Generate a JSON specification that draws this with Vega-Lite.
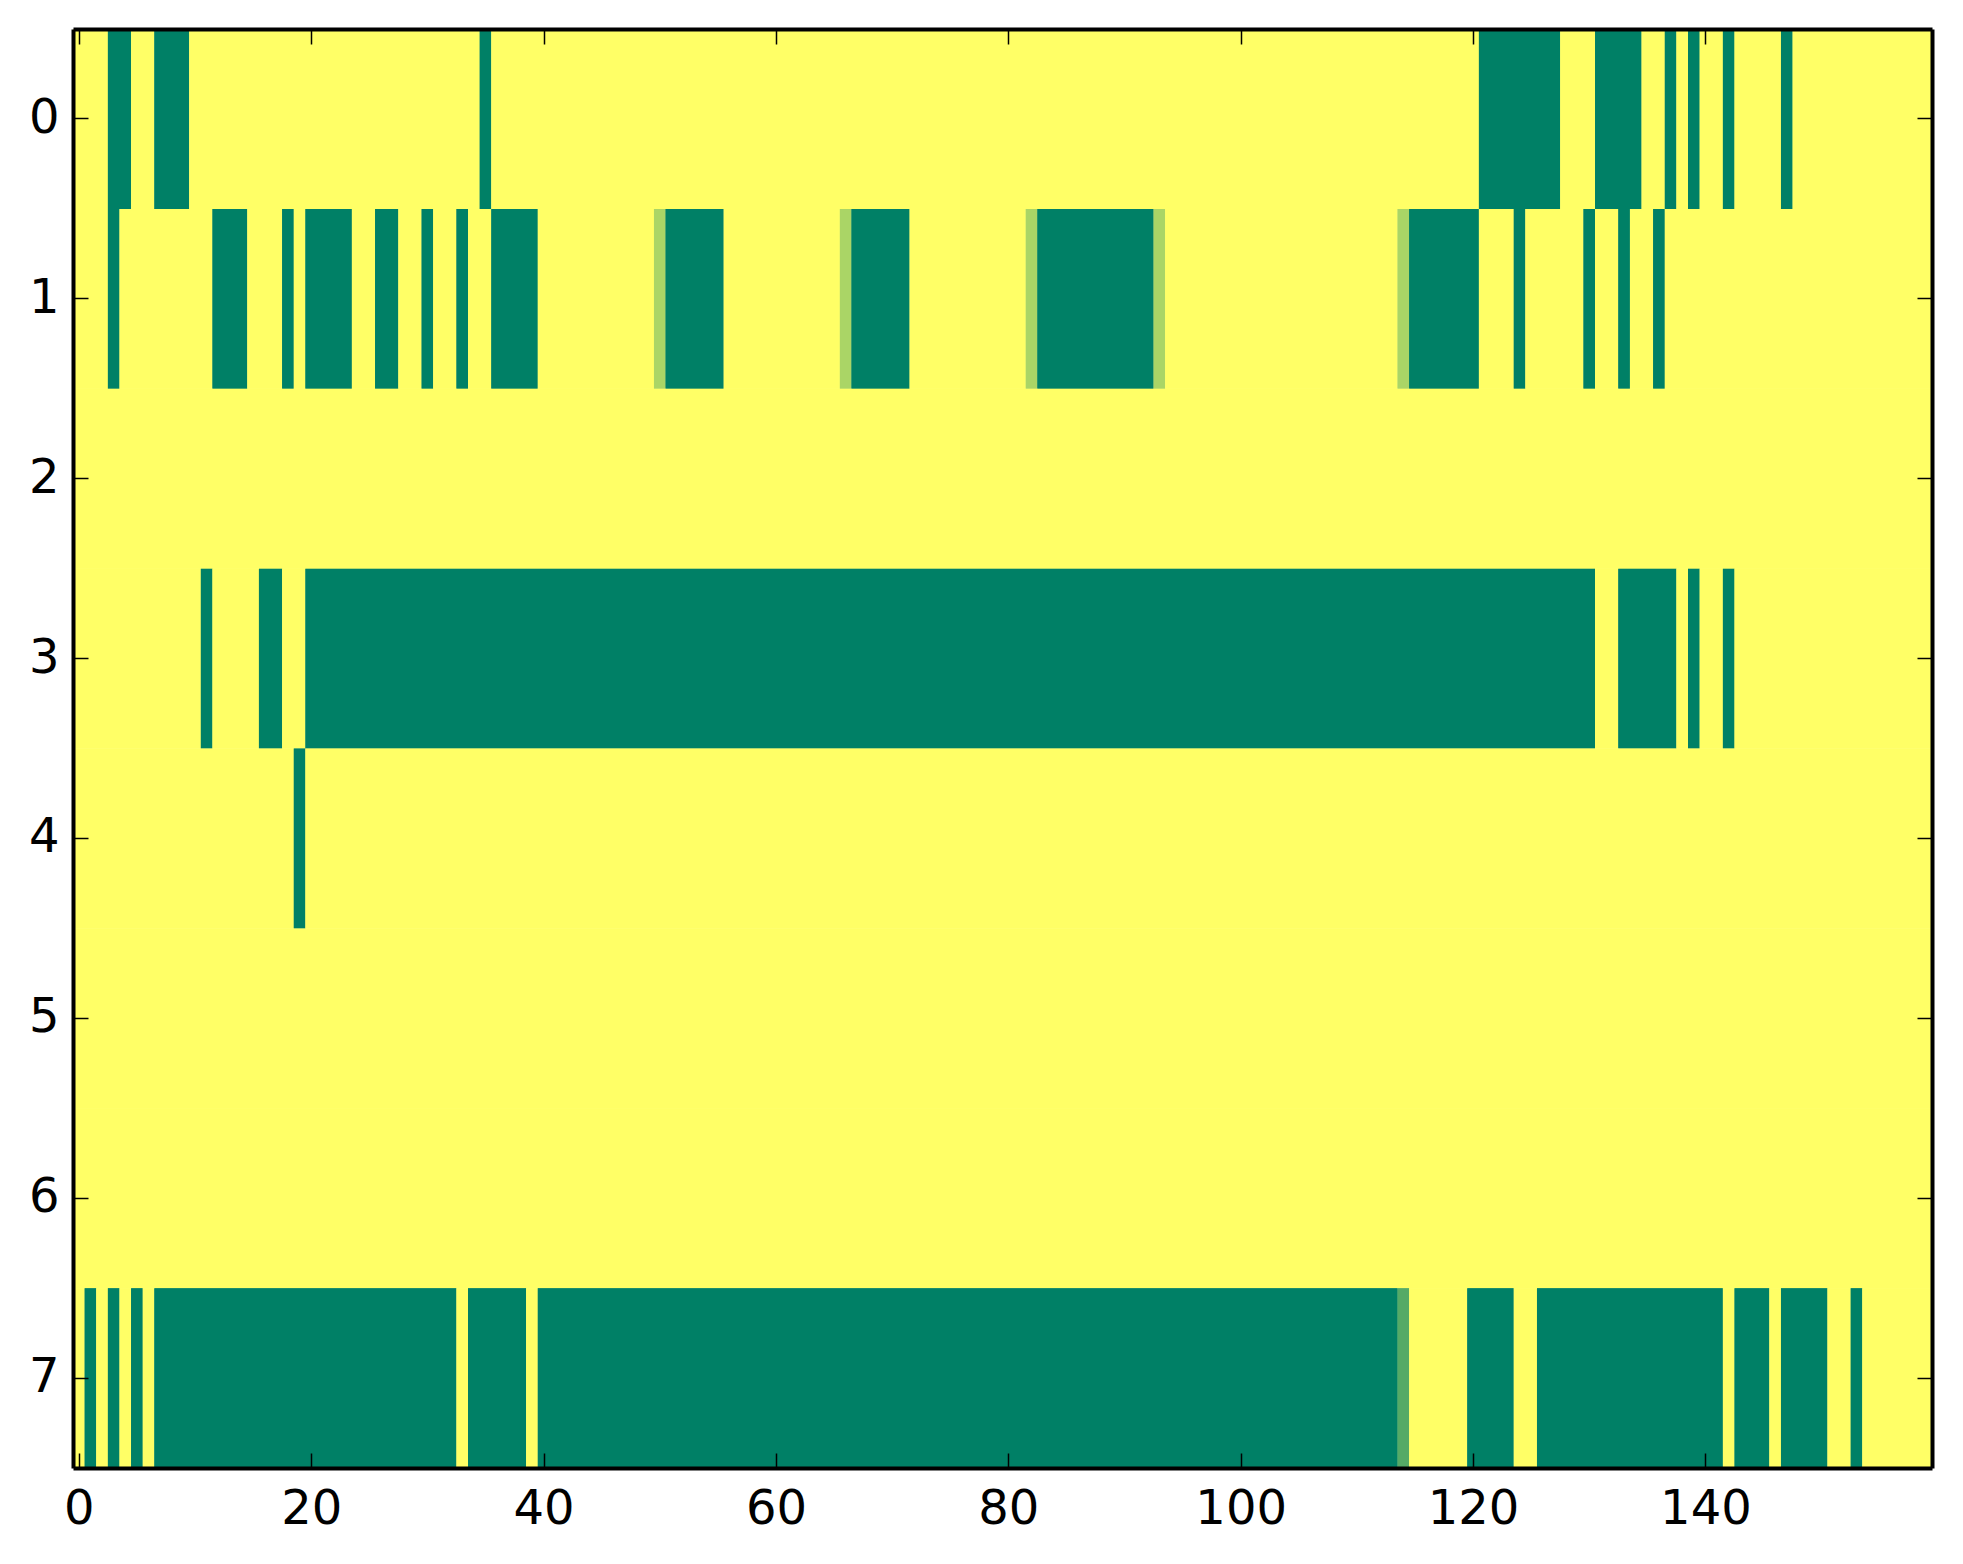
{
  "$schema": "https://vega.github.io/schema/vega-lite/v6.json",
  "width": 1859,
  "height": 1439,
  "autosize": {"type": "none"},
  "padding": {"left": 73, "top": 29, "right": 31, "bottom": 96},
  "background": "white",
  "data": {
    "values": [
      {"row": 0, "x0": -0.5, "x1": 2.5, "v": 1},
      {"row": 0, "x0": 2.5, "x1": 4.5, "v": 0},
      {"row": 0, "x0": 4.5, "x1": 6.5, "v": 1},
      {"row": 0, "x0": 6.5, "x1": 9.5, "v": 0},
      {"row": 0, "x0": 9.5, "x1": 34.5, "v": 1},
      {"row": 0, "x0": 34.5, "x1": 35.5, "v": 0},
      {"row": 0, "x0": 35.5, "x1": 120.5, "v": 1},
      {"row": 0, "x0": 120.5, "x1": 127.5, "v": 0},
      {"row": 0, "x0": 127.5, "x1": 130.5, "v": 1},
      {"row": 0, "x0": 130.5, "x1": 134.5, "v": 0},
      {"row": 0, "x0": 134.5, "x1": 136.5, "v": 1},
      {"row": 0, "x0": 136.5, "x1": 137.5, "v": 0},
      {"row": 0, "x0": 137.5, "x1": 138.5, "v": 1},
      {"row": 0, "x0": 138.5, "x1": 139.5, "v": 0},
      {"row": 0, "x0": 139.5, "x1": 141.5, "v": 1},
      {"row": 0, "x0": 141.5, "x1": 142.5, "v": 0},
      {"row": 0, "x0": 142.5, "x1": 146.5, "v": 1},
      {"row": 0, "x0": 146.5, "x1": 147.5, "v": 0},
      {"row": 0, "x0": 147.5, "x1": 159.5, "v": 1},

      {"row": 1, "x0": -0.5, "x1": 2.5, "v": 1},
      {"row": 1, "x0": 2.5, "x1": 3.5, "v": 0},
      {"row": 1, "x0": 3.5, "x1": 11.5, "v": 1},
      {"row": 1, "x0": 11.5, "x1": 14.5, "v": 0},
      {"row": 1, "x0": 14.5, "x1": 17.5, "v": 1},
      {"row": 1, "x0": 17.5, "x1": 18.5, "v": 0},
      {"row": 1, "x0": 18.5, "x1": 19.5, "v": 1},
      {"row": 1, "x0": 19.5, "x1": 23.5, "v": 0},
      {"row": 1, "x0": 23.5, "x1": 25.5, "v": 1},
      {"row": 1, "x0": 25.5, "x1": 27.5, "v": 0},
      {"row": 1, "x0": 27.5, "x1": 29.5, "v": 1},
      {"row": 1, "x0": 29.5, "x1": 30.5, "v": 0},
      {"row": 1, "x0": 30.5, "x1": 32.5, "v": 1},
      {"row": 1, "x0": 32.5, "x1": 33.5, "v": 0},
      {"row": 1, "x0": 33.5, "x1": 35.5, "v": 1},
      {"row": 1, "x0": 35.5, "x1": 39.5, "v": 0},
      {"row": 1, "x0": 39.5, "x1": 49.5, "v": 1},
      {"row": 1, "x0": 49.5, "x1": 50.5, "v": 0.667},
      {"row": 1, "x0": 50.5, "x1": 55.5, "v": 0},
      {"row": 1, "x0": 55.5, "x1": 65.5, "v": 1},
      {"row": 1, "x0": 65.5, "x1": 66.5, "v": 0.667},
      {"row": 1, "x0": 66.5, "x1": 71.5, "v": 0},
      {"row": 1, "x0": 71.5, "x1": 81.5, "v": 1},
      {"row": 1, "x0": 81.5, "x1": 82.5, "v": 0.667},
      {"row": 1, "x0": 82.5, "x1": 92.5, "v": 0},
      {"row": 1, "x0": 92.5, "x1": 93.5, "v": 0.667},
      {"row": 1, "x0": 93.5, "x1": 113.5, "v": 1},
      {"row": 1, "x0": 113.5, "x1": 114.5, "v": 0.667},
      {"row": 1, "x0": 114.5, "x1": 120.5, "v": 0},
      {"row": 1, "x0": 120.5, "x1": 123.5, "v": 1},
      {"row": 1, "x0": 123.5, "x1": 124.5, "v": 0},
      {"row": 1, "x0": 124.5, "x1": 129.5, "v": 1},
      {"row": 1, "x0": 129.5, "x1": 130.5, "v": 0},
      {"row": 1, "x0": 130.5, "x1": 132.5, "v": 1},
      {"row": 1, "x0": 132.5, "x1": 133.5, "v": 0},
      {"row": 1, "x0": 133.5, "x1": 135.5, "v": 1},
      {"row": 1, "x0": 135.5, "x1": 136.5, "v": 0},
      {"row": 1, "x0": 136.5, "x1": 159.5, "v": 1},

      {"row": 2, "x0": -0.5, "x1": 159.5, "v": 1},

      {"row": 3, "x0": -0.5, "x1": 10.5, "v": 1},
      {"row": 3, "x0": 10.5, "x1": 11.5, "v": 0},
      {"row": 3, "x0": 11.5, "x1": 15.5, "v": 1},
      {"row": 3, "x0": 15.5, "x1": 17.5, "v": 0},
      {"row": 3, "x0": 17.5, "x1": 19.5, "v": 1},
      {"row": 3, "x0": 19.5, "x1": 130.5, "v": 0},
      {"row": 3, "x0": 130.5, "x1": 132.5, "v": 1},
      {"row": 3, "x0": 132.5, "x1": 137.5, "v": 0},
      {"row": 3, "x0": 137.5, "x1": 138.5, "v": 1},
      {"row": 3, "x0": 138.5, "x1": 139.5, "v": 0},
      {"row": 3, "x0": 139.5, "x1": 141.5, "v": 1},
      {"row": 3, "x0": 141.5, "x1": 142.5, "v": 0},
      {"row": 3, "x0": 142.5, "x1": 159.5, "v": 1},

      {"row": 4, "x0": -0.5, "x1": 18.5, "v": 1},
      {"row": 4, "x0": 18.5, "x1": 19.5, "v": 0},
      {"row": 4, "x0": 19.5, "x1": 159.5, "v": 1},

      {"row": 5, "x0": -0.5, "x1": 159.5, "v": 1},

      {"row": 6, "x0": -0.5, "x1": 159.5, "v": 1},

      {"row": 7, "x0": -0.5, "x1": 0.5, "v": 1},
      {"row": 7, "x0": 0.5, "x1": 1.5, "v": 0},
      {"row": 7, "x0": 1.5, "x1": 2.5, "v": 1},
      {"row": 7, "x0": 2.5, "x1": 3.5, "v": 0},
      {"row": 7, "x0": 3.5, "x1": 4.5, "v": 1},
      {"row": 7, "x0": 4.5, "x1": 5.5, "v": 0},
      {"row": 7, "x0": 5.5, "x1": 6.5, "v": 1},
      {"row": 7, "x0": 6.5, "x1": 32.5, "v": 0},
      {"row": 7, "x0": 32.5, "x1": 33.5, "v": 1},
      {"row": 7, "x0": 33.5, "x1": 38.5, "v": 0},
      {"row": 7, "x0": 38.5, "x1": 39.5, "v": 1},
      {"row": 7, "x0": 39.5, "x1": 113.5, "v": 0},
      {"row": 7, "x0": 113.5, "x1": 114.5, "v": 0.333},
      {"row": 7, "x0": 114.5, "x1": 119.5, "v": 1},
      {"row": 7, "x0": 119.5, "x1": 123.5, "v": 0},
      {"row": 7, "x0": 123.5, "x1": 125.5, "v": 1},
      {"row": 7, "x0": 125.5, "x1": 141.5, "v": 0},
      {"row": 7, "x0": 141.5, "x1": 142.5, "v": 1},
      {"row": 7, "x0": 142.5, "x1": 145.5, "v": 0},
      {"row": 7, "x0": 145.5, "x1": 146.5, "v": 1},
      {"row": 7, "x0": 146.5, "x1": 150.5, "v": 0},
      {"row": 7, "x0": 150.5, "x1": 152.5, "v": 1},
      {"row": 7, "x0": 152.5, "x1": 153.5, "v": 0},
      {"row": 7, "x0": 153.5, "x1": 159.5, "v": 1}
    ]
  },
  "layer": [
    {
      "mark": {"type": "rect", "strokeWidth": 0},
      "encoding": {
        "x": {
          "field": "x0", "type": "quantitative",
          "scale": {"domain": [-0.5, 159.5], "nice": false, "zero": false},
          "axis": {"orient": "bottom", "values": [0, 20, 40, 60, 80, 100, 120, 140], "labelPadding": 32, "zindex": 1}
        },
        "x2": {"field": "x1"},
        "y": {
          "field": "row", "type": "ordinal",
          "scale": {"domain": [0, 1, 2, 3, 4, 5, 6, 7], "paddingInner": 0, "paddingOuter": 0},
          "axis": {"orient": "left", "labelPadding": 29, "zindex": 1}
        },
        "color": {
          "field": "v", "type": "quantitative",
          "scale": {"domain": [0, 1], "range": ["#008066", "#ffff66"], "interpolate": "rgb"},
          "legend": null
        }
      }
    },
    {
      "mark": {"type": "rect", "strokeWidth": 0},
      "encoding": {
        "x": {
          "field": "x0", "type": "quantitative",
          "axis": {"orient": "top", "values": [0, 20, 40, 60, 80, 100, 120, 140], "labels": false, "zindex": 1}
        },
        "x2": {"field": "x1"},
        "y": {
          "field": "row", "type": "ordinal",
          "axis": {"orient": "right", "labels": false, "zindex": 1}
        },
        "color": {"field": "v", "type": "quantitative", "legend": null}
      }
    }
  ],
  "resolve": {"axis": {"x": "independent", "y": "independent"}},
  "config": {
    "view": {"stroke": null},
    "axis": {
      "title": null,
      "grid": false,
      "domainColor": "black",
      "domainWidth": 4,
      "tickColor": "black",
      "tickWidth": 1.5,
      "tickSize": -15,
      "labelFont": "DejaVu Sans",
      "labelFontSize": 48,
      "labelColor": "black",
      "labelFlush": false,
      "labelOverlap": false,
      "labelAngle": 0
    }
  }
}
